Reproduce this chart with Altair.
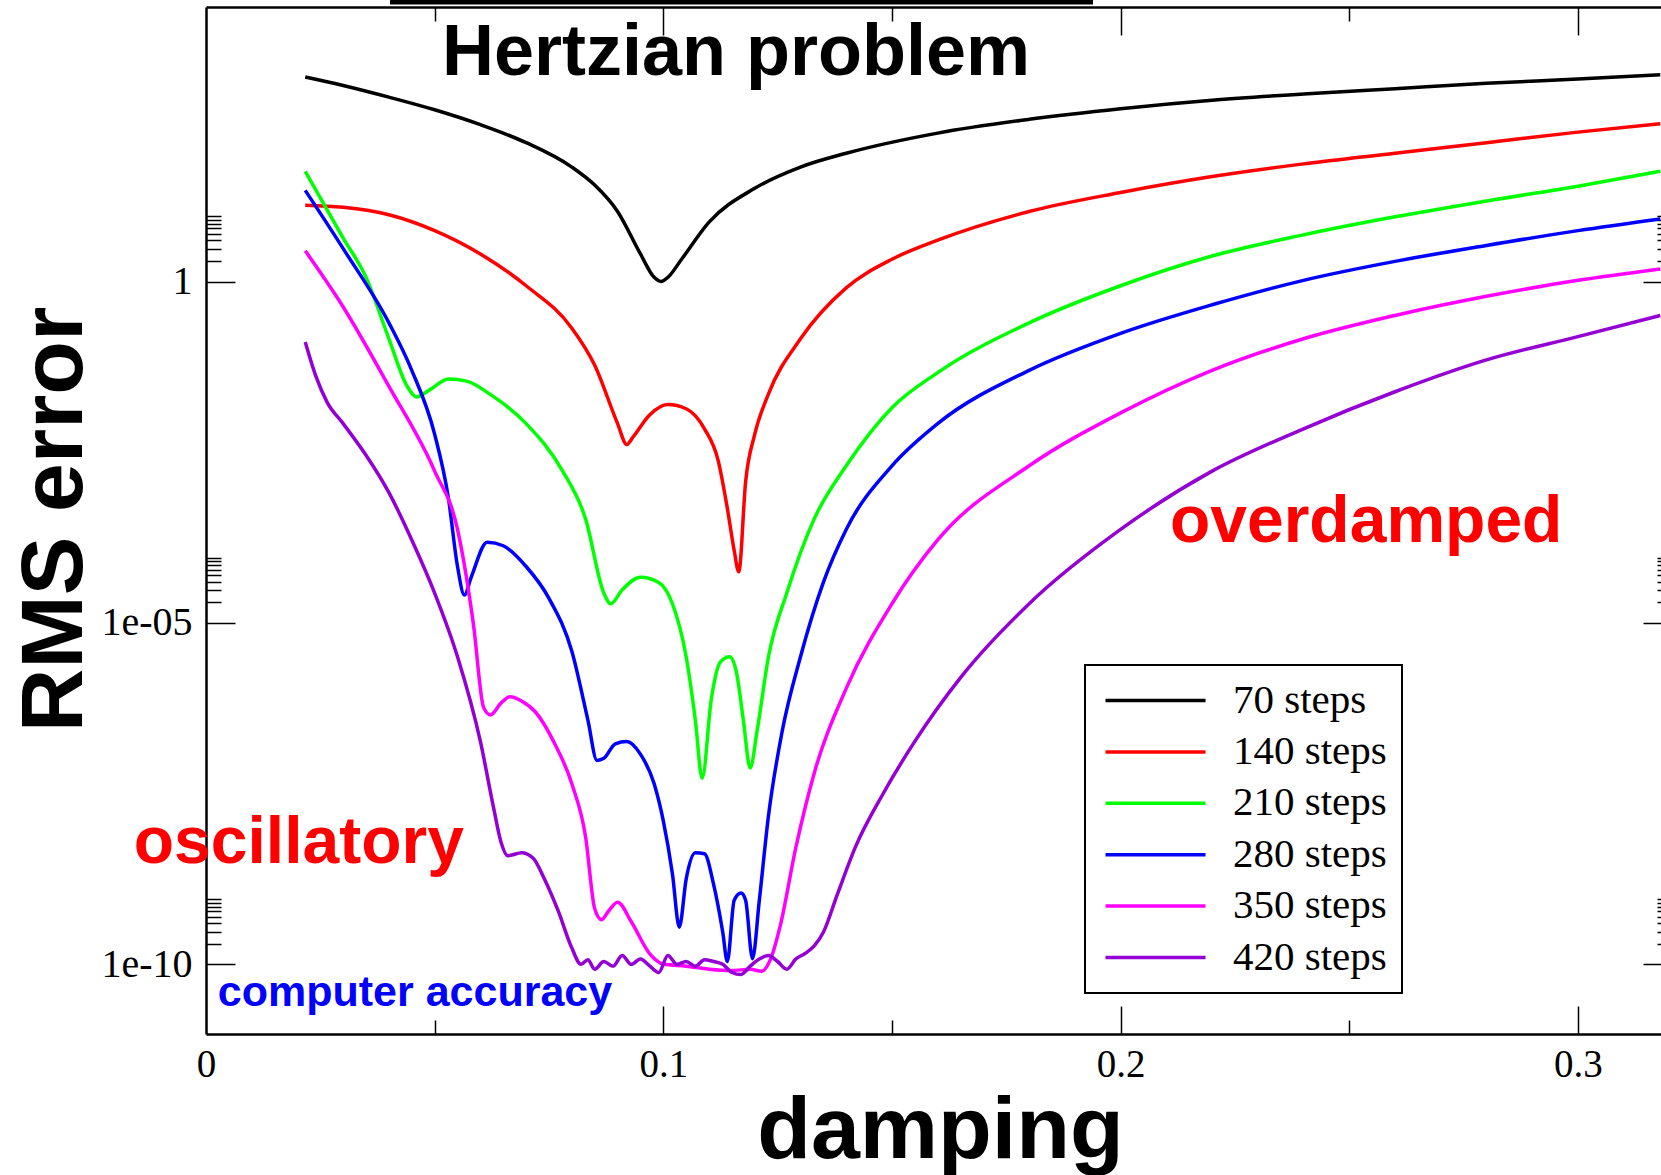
import altair as alt
import pandas as pd

# ---------------- data ----------------
series_names = ["70 steps", "140 steps", "210 steps", "280 steps", "350 steps", "420 steps"]
series_colors = ["#000000", "#ff0000", "#00ff00", "#0000ff", "#ff00ff", "#9400d3"]

x70 = [0.0217, 0.03, 0.04, 0.05, 0.06, 0.07, 0.08, 0.085, 0.09, 0.095, 0.098, 0.0995, 0.101,
       0.104, 0.11, 0.12, 0.13, 0.14, 0.16, 0.18, 0.2, 0.22, 0.24, 0.26, 0.28, 0.3, 0.318]
y70 = [989, 743, 501, 327, 198, 108, 47.4, 25.8, 10.6, 2.53, 1.15, 1.0, 1.15,
       2.12, 7.4, 23.2, 47.4, 75.5, 149, 237, 339, 451, 558, 667, 798, 920, 1062]

x140 = [0.0217, 0.03, 0.04, 0.05, 0.06, 0.07, 0.08, 0.085, 0.09, 0.092, 0.0935, 0.097, 0.101,
        0.105, 0.109, 0.112, 0.114, 0.1155, 0.1165, 0.118, 0.12, 0.123, 0.13, 0.14, 0.15, 0.16,
        0.18, 0.2, 0.22, 0.24, 0.26, 0.28, 0.3, 0.318]
y140 = [13.1, 12.2, 9.5, 5.56, 2.53, 0.867, 0.207, 0.0594, 0.0083, 0.0041, 0.00542, 0.0111, 0.0158,
        0.0137, 0.00697, 0.00238, 4.78e-4, 1.15e-4, 5.6e-5, 1.17e-3, 5.8e-3, 0.0226, 0.145, 0.807, 2.12, 4.03,
        10.6, 20.1, 34.4, 52.8, 75.5, 108, 154, 205]

x210 = [0.0217, 0.03, 0.035, 0.04, 0.044, 0.046, 0.049, 0.053, 0.057, 0.062, 0.07, 0.078, 0.083,
        0.087, 0.0885, 0.091, 0.095, 0.099, 0.102, 0.105, 0.107, 0.1085, 0.1105, 0.1125, 0.1145,
        0.116, 0.1175, 0.119, 0.1205, 0.123, 0.127, 0.133, 0.14, 0.15, 0.16, 0.18, 0.2, 0.22,
        0.24, 0.26, 0.28, 0.3, 0.318]
y210 = [41.1, 4.33, 1.15, 0.145, 0.0291, 0.0204, 0.0261, 0.0373, 0.0348, 0.0226, 0.0083, 1.67e-3, 3.34e-4,
        2.74e-5, 1.91e-5, 3.05e-5, 4.68e-5, 3.92e-5, 1.91e-5, 3.2e-6, 3.8e-7, 5.3e-8, 7.7e-7, 2.69e-6, 3.2e-6,
        1.88e-6, 3.8e-7, 7.5e-8, 2.6e-7, 3.2e-6, 2.74e-5, 3.34e-4, 2.0e-3, 0.0142, 0.0463, 0.248, 0.867, 2.36,
        4.82, 8.85, 15.1, 24.9, 41.1]

x280 = [0.0217, 0.03, 0.04, 0.045, 0.05, 0.053, 0.055, 0.0565, 0.058, 0.0615, 0.065, 0.07, 0.075,
        0.08, 0.0835, 0.0855, 0.087, 0.0895, 0.092, 0.095, 0.098, 0.1, 0.102, 0.1035, 0.105, 0.107,
        0.109, 0.111, 0.113, 0.114, 0.1155, 0.117, 0.118, 0.1195, 0.121, 0.123, 0.126, 0.13, 0.135,
        0.14, 0.15, 0.16, 0.18, 0.2, 0.22, 0.24, 0.26, 0.28, 0.3, 0.318]
y280 = [21.6, 3.03, 0.248, 0.05, 5.8e-3, 6.8e-4, 6.7e-5, 2.56e-5, 4.68e-5, 1.52e-4, 1.35e-4, 6.7e-5, 2.29e-5,
        3.84e-6, 3.8e-7, 9.7e-8, 1.04e-7, 1.7e-7, 1.84e-7, 1.2e-7, 4.4e-8, 1.26e-8, 2.1e-9, 3.5e-10, 1.77e-9, 4.3e-9,
        4.17e-9, 1.48e-9, 2.95e-10, 1.1e-10, 8.7e-10, 1.11e-9, 8.7e-10, 1.21e-10, 8.7e-10, 1.5e-8, 2.6e-7, 3.2e-6, 3.92e-5,
        2.34e-4, 2.0e-3, 8.3e-3, 0.05, 0.174, 0.456, 1.04, 1.97, 3.37, 5.56, 8.24]

x350 = [0.0217, 0.03, 0.04, 0.05, 0.055, 0.0585, 0.0607, 0.0622, 0.0645, 0.0665, 0.069, 0.072, 0.076, 0.08,
        0.083, 0.085, 0.0865, 0.088, 0.09, 0.093, 0.097, 0.1, 0.105, 0.11, 0.115, 0.119, 0.1215,
        0.1235, 0.1255, 0.129, 0.133, 0.14, 0.15, 0.16, 0.18, 0.2, 0.22, 0.24, 0.26, 0.28, 0.3, 0.318]
y350 = [2.82, 0.424, 0.0291, 1.67e-3, 2.34e-4, 9.3e-6, 5.8e-7, 4.5e-7, 6.7e-7, 8.3e-7, 7.2e-7, 5.0e-7, 1.84e-7, 4.4e-8,
        7.4e-9, 6.5e-10, 4.5e-10, 6.0e-10, 8.1e-10, 4.2e-10, 1.44e-10, 1.01e-10, 9.4e-11, 8.5e-11, 8.1e-11, 8.5e-11, 7.9e-11,
        1.21e-10, 3.5e-10, 5.2e-9, 6.3e-8, 1.1e-6, 1.91e-5, 1.64e-4, 2.0e-3, 0.0119, 0.05, 0.145, 0.318, 0.607, 1.04, 1.53]

x420 = [0.0217, 0.024, 0.0265, 0.03, 0.035, 0.04, 0.045, 0.05, 0.055, 0.06, 0.063, 0.0645, 0.066,
        0.069, 0.0715, 0.074, 0.077, 0.08, 0.082, 0.0835, 0.085, 0.087, 0.089, 0.091, 0.093, 0.095,
        0.097, 0.099, 0.101, 0.103, 0.105, 0.107, 0.109, 0.111, 0.113, 0.115, 0.117, 0.119, 0.121,
        0.123, 0.125, 0.127, 0.129, 0.131, 0.133, 0.135, 0.138, 0.142, 0.148, 0.155, 0.165, 0.18,
        0.2, 0.22, 0.24, 0.26, 0.28, 0.3, 0.318]
y420 = [0.13, 0.0415, 0.017, 8.3e-3, 2.85e-3, 8.1e-4, 1.64e-4, 2.74e-5, 3.2e-6, 1.84e-7, 1.8e-8, 6.2e-9, 3.9e-9,
        4.3e-9, 3.6e-9, 1.78e-9, 6.1e-10, 1.73e-10, 1.0e-10, 1.17e-10, 8.5e-11, 1.1e-10, 9.4e-11, 1.35e-10, 1.0e-10, 1.2e-10,
        9.5e-11, 7.6e-11, 1.35e-10, 1.0e-10, 1.1e-10, 9.4e-11, 1.17e-10, 1.1e-10, 1.0e-10, 7.6e-11, 7.1e-11, 9.4e-11, 1.2e-10,
        1.35e-10, 1.1e-10, 8.5e-11, 1.2e-10, 1.44e-10, 1.86e-10, 2.95e-10, 1.03e-9, 5.2e-9, 3.1e-8, 1.84e-7, 1.58e-6, 1.91e-5,
        2.34e-4, 1.67e-3, 6.97e-3, 0.0243, 0.0711, 0.156, 0.318]

all_x = [x70, x140, x210, x280, x350, x420]
all_y = [y70, y140, y210, y280, y350, y420]

x_major_ticks = [0.1, 0.2, 0.3]
x_minor_ticks = [0.05, 0.15, 0.25]
x_label_values = [0.0, 0.1, 0.2, 0.3]
y_major_ticks = [1e-10, 1e-5, 1.0]
y_minor_ticks = [2e-10, 3e-10, 4e-10, 5e-10, 6e-10, 7e-10, 8e-10, 9e-10,
                 2e-5, 3e-5, 4e-5, 5e-5, 6e-5, 7e-5, 8e-5, 9e-5,
                 2.0, 3.0, 4.0, 5.0, 6.0, 7.0, 8.0, 9.0]

notes_text = ["Hertzian problem", "oscillatory", "overdamped", "computer accuracy"]
notes_x = [0.1159, 0.0203, 0.2537, 0.0457]
notes_y = [1040, 3.0e-9, 1.52e-4, 2.43e-11]
notes_color = ["#000000", "#ff0000", "#ff0000", "#0000ff"]
notes_size = [72, 66, 66, 43]

# ---------------- build tables ----------------
rows = []
for name, xs, ys in zip(series_names, all_x, all_y):
    for i, (xv, yv) in enumerate(zip(xs, ys)):
        rows.append({"series": name, "damping": xv, "rms": yv, "i": i})
df = pd.DataFrame(rows)

W, H = 1455, 1027
XMAX = 0.31817
YMIN, YMAX = 9.55e-12, 1.047e4
SERIF = "Liberation Serif"
SANS = "Liberation Sans"

xscale = alt.Scale(domain=[0, XMAX], nice=False, zero=False)
yscale = alt.Scale(type="log", domain=[YMIN, YMAX], nice=False)


def tick_axis(orient, offset, values, size, domain=False):
    return alt.Axis(orient=orient, offset=offset, values=values, tickSize=size,
                    tickWidth=1.5, tickColor="black", ticks=True, labels=False,
                    domain=domain, domainWidth=2.5, domainColor="black",
                    grid=False, title=None)


lines = alt.Chart(df).mark_line(strokeWidth=3.5, clip=True, interpolate="monotone").encode(
    x=alt.X("damping:Q", scale=xscale, axis=alt.Axis(
        orient="bottom", values=x_label_values, ticks=False, tickSize=0,
        labelExpr="datum.value == 0 ? '0' : format(datum.value, '.1f')",
        labelFont=SERIF, labelFontSize=39, labelColor="black", labelPadding=11,
        labelFlush=False, labelOverlap=False, labelBound=False,
        domain=True, domainWidth=2.5, domainColor="black", grid=False,
        title="damping", titleFont=SANS, titleFontSize=88, titleFontWeight="bold",
        titleColor="black", titleX=734, titleY=123, titleAlign="center",
        titleBaseline="alphabetic")),
    y=alt.Y("rms:Q", scale=yscale, axis=alt.Axis(
        orient="left", values=y_major_ticks, ticks=False, tickSize=0,
        labelExpr="datum.value == 1 ? '1' : (datum.value > 1e-6 ? '1e-05' : '1e-10')",
        labelFont=SERIF, labelFontSize=40, labelColor="black", labelPadding=14,
        labelOverlap=False, labelBound=False,
        domain=True, domainWidth=2.5, domainColor="black", grid=False,
        title="RMS error", titleFont=SANS, titleFontSize=88, titleFontWeight="bold",
        titleColor="black", titleAngle=270, titleX=-125, titleY=512,
        titleAlign="center", titleBaseline="alphabetic")),
    color=alt.Color("series:N", scale=alt.Scale(domain=series_names, range=series_colors),
                    legend=alt.Legend(
                        orient="none", legendX=879, legendY=658, title=None,
                        symbolType="M-5,0L5,0", symbolSize=400, symbolStrokeWidth=3.5,
                        labelFont=SERIF, labelFontSize=41, labelColor="black",
                        strokeColor="black", fillColor="white", padding=15,
                        rowPadding=9.4, labelOffset=57, symbolOffset=35)),
    order=alt.Order("i:Q"),
)


def tick_layer(xaxis, yaxis):
    return alt.Chart(df).mark_point(opacity=0, size=1).encode(
        x=alt.X("damping:Q", scale=xscale, axis=xaxis),
        y=alt.Y("rms:Q", scale=yscale, axis=yaxis),
    )


t_in_major = tick_layer(tick_axis("top", -H, x_major_ticks, 28),
                        tick_axis("right", -W, y_major_ticks, 29))
t_in_minor = tick_layer(tick_axis("top", -H, x_minor_ticks, 14),
                        tick_axis("right", -W, y_minor_ticks, 15))
t_top_major = tick_layer(tick_axis("bottom", -H, x_major_ticks, 28, domain=True),
                         tick_axis("left", -1466, y_major_ticks, 29))
t_top_minor = tick_layer(tick_axis("bottom", -H, x_minor_ticks, 14),
                         tick_axis("left", -1466, y_minor_ticks, 15))

note_layers = []
for t, xv, yv, c, s in zip(notes_text, notes_x, notes_y, notes_color, notes_size):
    nd = pd.DataFrame({"x": [xv], "y": [yv], "t": [t]})
    note_layers.append(
        alt.Chart(nd).mark_text(font=SANS, fontWeight="bold", fontSize=s, color=c,
                                align="center", baseline="alphabetic").encode(
            x=alt.X("x:Q", scale=xscale, axis=None),
            y=alt.Y("y:Q", scale=yscale, axis=None),
            text="t:N")
    )

top_bar = alt.Chart(pd.DataFrame({"a": [0]})).mark_rect(color="black").encode(
    x=alt.value(184), x2=alt.value(887), y=alt.value(-7), y2=alt.value(-2.4))

chart = alt.layer(lines, t_in_major, t_in_minor, t_top_major, t_top_minor,
                  *note_layers, top_bar).resolve_axis(
    x="independent", y="independent"
).properties(
    width=W, height=H,
    autosize=alt.AutoSizeParams(type="none"),
    padding={"left": 206, "top": 7, "right": 0, "bottom": 141},
    background="white",
).configure_view(stroke=None).configure_legend(strokeWidth=2)

chart.save("out.html", embed_options={"renderer": "svg", "actions": False})
